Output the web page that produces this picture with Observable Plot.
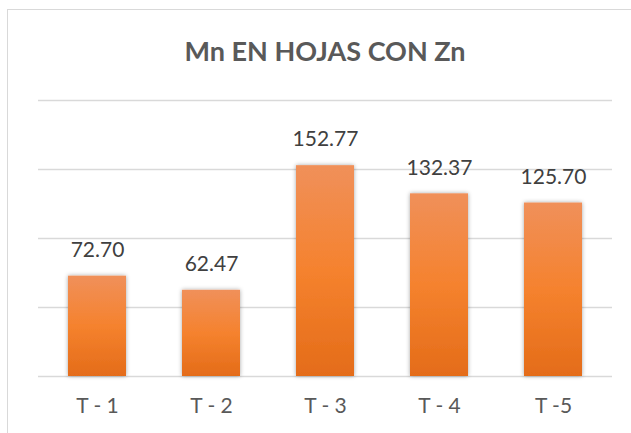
<!DOCTYPE html>
<html><head><meta charset="utf-8">
<script src="https://cdn.jsdelivr.net/npm/d3@7"></script>
<script src="https://cdn.jsdelivr.net/npm/@observablehq/plot@0.6"></script>
<style>
html,body{margin:0;padding:0;background:#fff;overflow:hidden;}
#frame{position:absolute;left:7px;top:9px;width:650px;height:450px;border:1.5px solid #d9d9d9;box-sizing:border-box;}
#title{position:absolute;left:0;top:37px;width:650px;text-align:center;font:bold 27px/27px Lato, sans-serif;color:#595959;}
#chart{position:absolute;left:0;top:0;}
</style></head><body>
<div id="frame"></div>
<div id="title">Mn EN HOJAS CON Zn</div>
<div id="chart"></div>
<script>
const categories = ["T - 1", "T - 2", "T - 3", "T - 4", "T -5"];
const values = [72.70, 62.47, 152.77, 132.37, 125.70];
const gridTicks = [0, 50, 100, 150, 200];

const data = categories.map((c, i) => ({cat: c, val: values[i]}));

const plot = Plot.plot({
  width: 631,
  height: 433,
  marginTop: 100,
  marginBottom: 57,
  marginLeft: 38,
  marginRight: 19,
  style: {fontFamily: "Lato, sans-serif", background: "transparent"},
  x: {domain: categories, paddingInner: 0.495, paddingOuter: 0.2475, label: null},
  y: {domain: [0, 200], axis: null},
  marks: [
    Plot.ruleY(gridTicks, {stroke: "#d9d9d9", strokeWidth: 1.3}),
    Plot.barY(data, {x: "cat", y: "val", fill: "url(#barGrad)"}),
    Plot.text(data, {x: "cat", y: "val", text: d => d.val.toFixed(2), dy: -26, lineAnchor: "middle", fontSize: 21, fill: "#404040"}),
    Plot.axisX({tickSize: 0, tickPadding: 22, fontSize: 21, color: "#595959", label: null})
  ]
});

const ns = "http://www.w3.org/2000/svg";
const defs = document.createElementNS(ns, "defs");
defs.innerHTML = `
<linearGradient id="barGrad" x1="0" y1="0" x2="0" y2="1">
  <stop offset="0" stop-color="#f0905a"/>
  <stop offset="0.5" stop-color="#f5822e"/>
  <stop offset="1" stop-color="#e46c19"/>
</linearGradient>
<filter id="barShadow" x="-20%" y="-5%" width="140%" height="110%">
  <feDropShadow dx="0" dy="0" stdDeviation="2" flood-color="#000" flood-opacity="0.35"/>
</filter>`;
plot.insertBefore(defs, plot.firstChild);
plot.querySelectorAll("g[aria-label='bar'] rect").forEach(r => r.setAttribute("filter", "url(#barShadow)"));
document.getElementById("chart").appendChild(plot);
</script>
</body></html>
